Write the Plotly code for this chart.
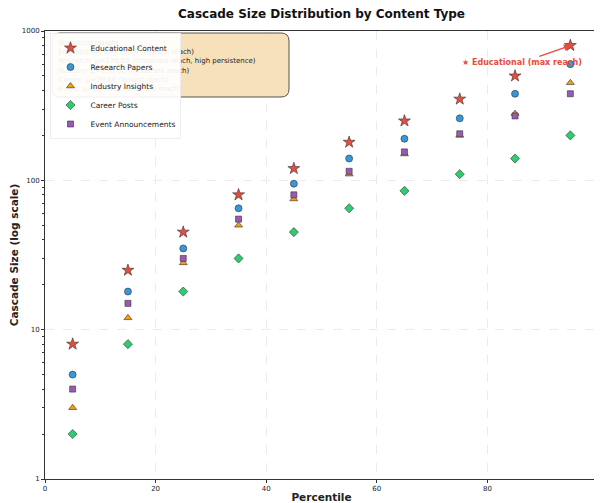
import math
import plotly.graph_objects as go

percentiles = [5, 15, 25, 35, 45, 55, 65, 75, 85, 95]
educational = [8, 25, 45, 80, 120, 180, 250, 350, 500, 800]
research = [5, 18, 35, 65, 95, 140, 190, 260, 380, 600]
industry = [3, 12, 28, 50, 75, 110, 150, 200, 280, 450]
career = [2, 8, 18, 30, 45, 65, 85, 110, 140, 200]
event = [4, 15, 30, 55, 80, 115, 155, 205, 270, 380]

series = [
    ("Educational Content", educational, "star", "#e74c3c", 9),
    ("Research Papers", research, "circle", "#3498db", 7),
    ("Industry Insights", industry, "triangle-up", "#f39c12", 7),
    ("Career Posts", career, "diamond", "#2ecc71", 7),
    ("Event Announcements", event, "square", "#9b59b6", 6),
]

stats_lines = [
    "Statistical Insight",
    "Educational: μ=235.00 (highest reach)",
    "Research: μ=178.00 (moderate reach, high persistence)",
    "Industry: μ=150.00 (moderate reach)",
    "Career: μ=70.00 (lowest reach)",
    "Event: μ=133.00 (moderate reach)",
]

FONT = "DejaVu Sans"
W, H = 594, 495          # page body has an 8px margin
ML, MR, MT, MB = 37, 4, 23, 24
PW, PH = W - ML - MR, H - MT - MB

fig = go.Figure()
for name, vals, sym, col, sz in series:
    fig.add_trace(go.Scatter(
        x=percentiles, y=vals, mode="markers", name=name,
        marker=dict(symbol=sym, color=col, size=sz,
                    line=dict(color="#333333", width=0.6)),
    ))

# rounded beige stats box drawn as a shape (below the legend)
x0, x1 = 7 / PW, 244 / PW
y1, y0 = 1 - 2 / PH, 1 - 66 / PH
r = 8 / PW
ry = 8 / PH
box_path = (
    f"M {x0 + r},{y0} L {x1 - r},{y0} Q {x1},{y0} {x1},{y0 + ry} "
    f"L {x1},{y1 - ry} Q {x1},{y1} {x1 - r},{y1} "
    f"L {x0 + r},{y1} Q {x0},{y1} {x0},{y1 - ry} "
    f"L {x0},{y0 + ry} Q {x0},{y0} {x0 + r},{y0} Z"
)
fig.add_shape(
    type="path", path=box_path, xref="paper", yref="paper", layer="above",
    fillcolor="rgba(245,222,179,0.9)", line=dict(color="#555555", width=1),
)
fig.add_shape(
    type="rect", x0=x0, x1=x1, y0=y0, y1=y1, xref="paper", yref="paper",
    layer="above", line=dict(width=0), fillcolor="rgba(0,0,0,0)",
    label=dict(text="<br>".join(stats_lines), textposition="middle left",
               font=dict(family=FONT, size=7, color="#222222"), padding=3),
)

fig.add_annotation(
    x=percentiles[-1], y=math.log10(educational[-1]), xref="x", yref="y",
    ayref="pixel", axref="pixel", ax=-48, ay=17,
    text="<b>★ Educational (max reach)</b>", showarrow=True,
    arrowhead=2, arrowsize=1, arrowwidth=1.3, arrowcolor="#e74c3c",
    font=dict(family=FONT, size=8, color="#e74c3c"),
)

fig.update_layout(
    width=W, height=H,
    margin=dict(l=ML, r=MR, t=MT, b=MB),
    paper_bgcolor="white", plot_bgcolor="white",
    font=dict(family=FONT, size=7, color="#222222"),
    title=dict(text="<b>Cascade Size Distribution by Content Type</b>",
               x=(ML + PW / 2) / W, xanchor="center", y=1, yanchor="top",
               pad=dict(t=2, b=0, l=0, r=0),
               font=dict(family=FONT, size=12, color="#111111")),
    showlegend=True,
    legend=dict(x=5 / PW, y=1 - 2 / PH, xanchor="left", yanchor="top",
                bgcolor="rgba(255,255,255,0.92)", bordercolor="#dddddd", borderwidth=0.5,
                font=dict(family=FONT, size=7.5, color="#222222"),
                itemwidth=30, tracegroupgap=0),
)

fig.update_xaxes(
    range=[0, 100], tickvals=[0, 20, 40, 60, 80, 100], automargin=False,
    showgrid=True, gridcolor="#ebebeb", griddash="dash", gridwidth=0.6,
    showline=True, linecolor="#333333", linewidth=1, mirror=True,
    ticks="outside", ticklen=3, tickcolor="#333333", zeroline=False,
    title=dict(text="<b>Percentile</b>", font=dict(family=FONT, size=10.5), standoff=2),
)
fig.update_yaxes(
    type="log", range=[0, 3], automargin=False,
    tickvals=[1, 10, 100, 1000], ticktext=["1", "10", "100", "1000"],
    showgrid=True, gridcolor="#ebebeb", griddash="dash", gridwidth=0.6,
    showline=True, linecolor="#333333", linewidth=1, mirror=True,
    ticks="outside", ticklen=3, tickcolor="#333333", zeroline=False,
    minor=dict(ticks="outside", ticklen=2, tickcolor="#333333", showgrid=False,
               tickvals=[b * m for b in (1, 10, 100) for m in range(2, 10)]),
    title=dict(text="<b>Cascade Size (log scale)</b>", font=dict(family=FONT, size=10.5), standoff=4),
)

fig.write_html("out.html")
